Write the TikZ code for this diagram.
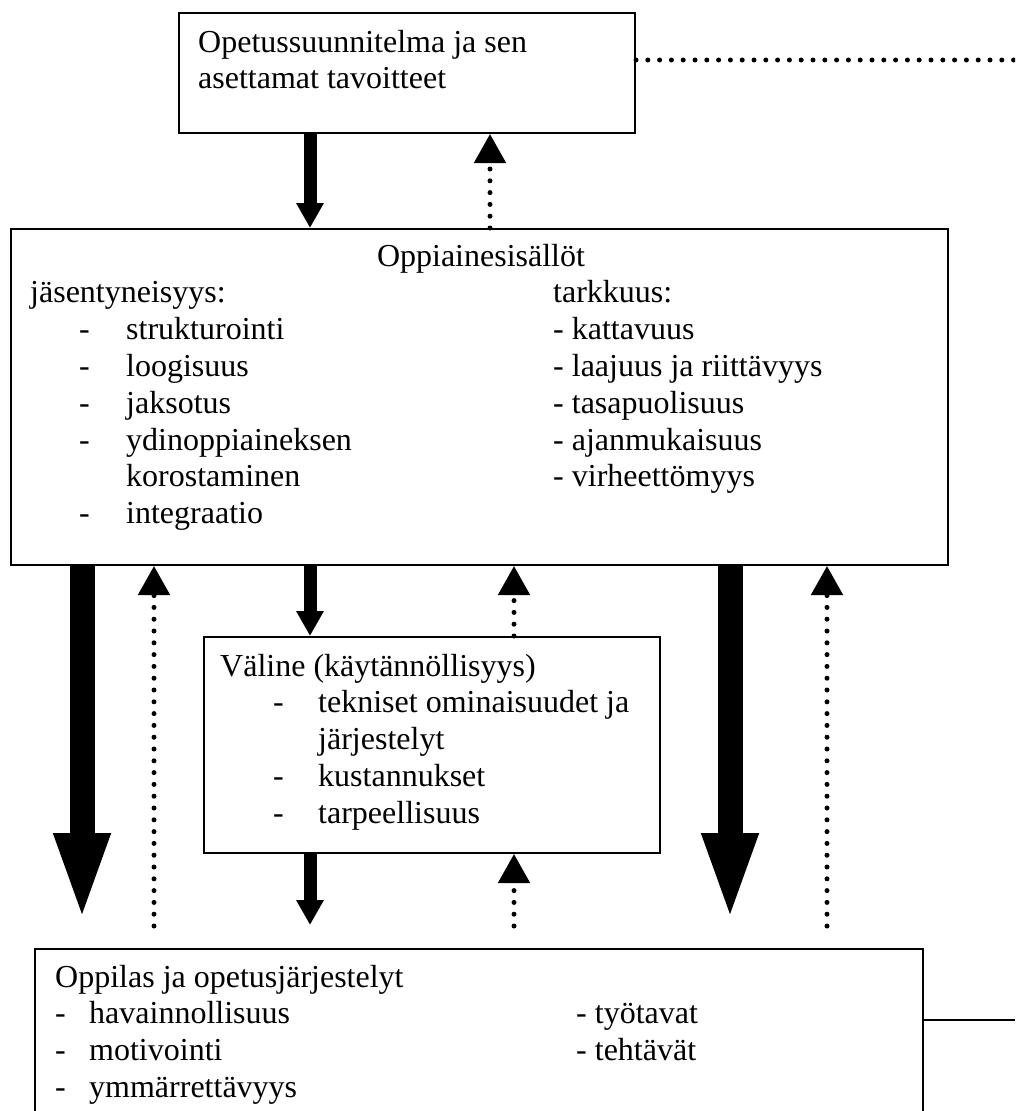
\documentclass[tikz,border=0pt]{standalone}
\usepackage{fontspec}
\setmainfont{Liberation Serif}
\usetikzlibrary{arrows.meta}
\tikzset{
  box/.style={draw, line width=2pt, anchor=north west, inner sep=0pt, fill=white},
  txt/.style={anchor=base west, inner sep=0pt, font=\fontsize{32}{36.8}\selectfont},
  ctxt/.style={anchor=base, inner sep=0pt, font=\fontsize{32}{36.8}\selectfont},
  solidarr/.style={line width=13pt, -{Triangle[length=25pt 0 0, width=26pt 0 0]}},
  bigarr/.style={line width=25pt, -{Triangle[length=90pt 0 0, width=50pt 0 0]}},
  dotarr/.style={line width=5pt, line cap=round, dash pattern=on 0pt off 11.8pt, -{Triangle[length=29pt 0 0, width=31pt 0 0]}},
  dotline/.style={line width=5pt, line cap=round, dash pattern=on 0pt off 11.8pt},
  plainline/.style={line width=2pt}
}
\begin{document}
\begin{tikzpicture}[x=1pt, y=-1pt]
\useasboundingbox (0,0) rectangle (1015,1111);
\fill[white] (0,0) rectangle (1015,1111);
\clip (0,0) rectangle (1015,1111);

% boxes
\node[box, minimum width=456pt, minimum height=120pt] (topbox) at (178,12) {};
\node[box, minimum width=937pt, minimum height=336pt] (midbox) at (10,228) {};
\node[box, minimum width=456pt, minimum height=216pt] (valbox) at (203,636) {};
\node[box, minimum width=888pt, minimum height=190pt] (botbox) at (34,948) {};

% top box text
\node[txt] (t1) at (198,52) {Opetussuunnitelma ja sen};
\node[txt] (t2) at (198,88.8) {asettamat tavoitteet};

% middle box text
\node[ctxt] (m0) at (481,266) {Oppiainesisällöt};
\node[txt] (m1) at (30,302.8) {jäsentyneisyys:};
\node[txt] (md1) at (79,339.6) {-};
\node[txt] (ml1) at (126,339.6) {strukturointi};
\node[txt] (md2) at (79,376.4) {-};
\node[txt] (ml2) at (126,376.4) {loogisuus};
\node[txt] (md3) at (79,413.2) {-};
\node[txt] (ml3) at (126,413.2) {jaksotus};
\node[txt] (md4) at (79,450) {-};
\node[txt] (ml4) at (126,450) {ydinoppiaineksen};
\node[txt] (ml5) at (126,486.8) {korostaminen};
\node[txt] (md6) at (79,523.6) {-};
\node[txt] (ml6) at (126,523.6) {integraatio};
\node[txt] (r0) at (553,302.8) {tarkkuus:};
\node[txt] (r1) at (553,339.6) {- kattavuus};
\node[txt] (r2) at (553,376.4) {- laajuus ja riittävyys};
\node[txt] (r3) at (553,413.2) {- tasapuolisuus};
\node[txt] (r4) at (553,450) {- ajanmukaisuus};
\node[txt] (r5) at (553,486.8) {- virheettömyys};

% valine box text
\node[txt] (v0) at (220,676) {Väline (käytännöllisyys)};
\node[txt] (vd1) at (273,712.8) {-};
\node[txt] (v1) at (318,712.8) {tekniset ominaisuudet ja};
\node[txt] (v2) at (318,749.6) {järjestelyt};
\node[txt] (vd3) at (273,786.4) {-};
\node[txt] (v3) at (318,786.4) {kustannukset};
\node[txt] (vd4) at (273,823.2) {-};
\node[txt] (v4) at (318,823.2) {tarpeellisuus};

% bottom box text
\node[txt] (b0) at (55,987) {Oppilas ja opetusjärjestelyt};
\node[txt] (bd1) at (55,1023.8) {-};
\node[txt] (b1) at (89,1023.8) {havainnollisuus};
\node[txt] (bd2) at (55,1060.6) {-};
\node[txt] (b2) at (89,1060.6) {motivointi};
\node[txt] (bd3) at (55,1097.4) {-};
\node[txt] (b3) at (89,1097.4) {ymmärrettävyys};
\node[txt] (br1) at (576,1023.8) {- työtavat};
\node[txt] (br2) at (576,1060.6) {- tehtävät};

% coordinates
\coordinate (xa) at (310,0);
\coordinate (xb) at (490,0);
\coordinate (xc) at (82,0);
\coordinate (xe) at (514,0);
\coordinate (xf) at (730,0);
\coordinate (ec) at (82,923);
\coordinate (ed) at (154,926);
\coordinate (ef) at (730,923);
\coordinate (eg) at (827,926);
\coordinate (eh) at (310,925);
\coordinate (ei) at (514,926);
\coordinate (dl) at (1015,60);
\coordinate (rl) at (1015,1020);

% connectors
\draw[solidarr] (topbox.south -| xa) -- (midbox.north -| xa);
\draw[dotarr] (midbox.north -| xb) -- (topbox.south -| xb);
\draw[dotline] (topbox.east |- dl) -- (dl);

\draw[bigarr] (midbox.south -| xc) -- (ec);
\draw[dotarr] (ed) -- (midbox.south -| ed);
\draw[solidarr] (midbox.south -| xa) -- (valbox.north -| xa);
\draw[dotarr] (valbox.north -| xe) -- (midbox.south -| xe);
\draw[bigarr] (midbox.south -| xf) -- (ef);
\draw[dotarr] (eg) -- (midbox.south -| eg);

\draw[solidarr] (valbox.south -| eh) -- (eh);
\draw[dotarr] (ei) -- (valbox.south -| ei);

\draw[plainline] (botbox.east |- rl) -- (rl);
\end{tikzpicture}
\end{document}
